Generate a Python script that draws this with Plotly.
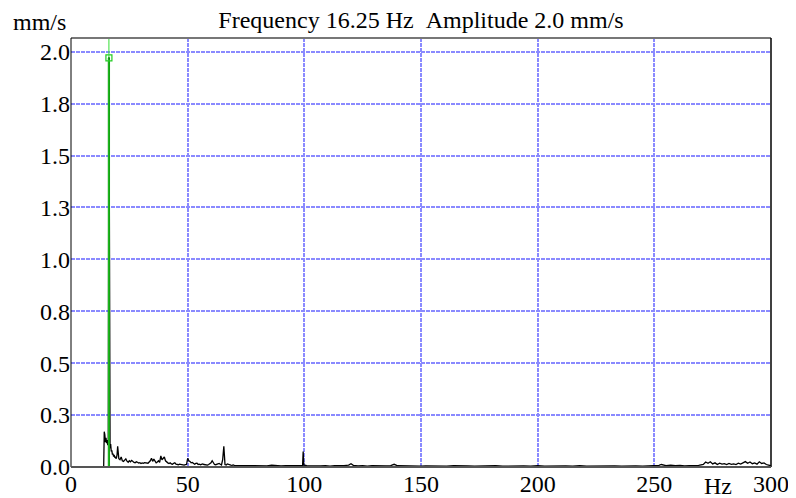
import plotly.graph_objects as go

# ---- data ----
peak_freq = 16.25
peak_amp = 1.97

freq_a = [0, 12.0, 13.75, 14.0, 14.25, 14.5, 14.75, 15.0, 15.25, 15.5, 15.75, 16.0, 16.25,
          16.5, 16.75, 17.0, 17.25, 17.5, 17.75, 18.0, 18.25, 18.5, 18.75, 19.0, 19.25,
          19.5, 19.75, 20.0]
amp_a = [0.0, 0.0, 0.0, 0.0, 0.17, 0.155, 0.12, 0.14, 0.115, 0.13, 0.105, 0.12, 1.97,
         0.10, 0.09, 0.11, 0.075, 0.08, 0.06, 0.065, 0.05, 0.058, 0.045, 0.05, 0.04,
         0.045, 0.06, 0.10]

freq_b = [20.5, 21.0, 21.5, 22.0, 22.5, 23.0, 23.5, 24.0, 24.5, 25.0, 25.5, 26.0, 26.5,
          27.0, 27.5, 28.0, 28.5, 29.0, 29.5, 30.0, 30.5, 31.0, 31.5, 32.0, 32.5, 33.0,
          33.5, 34.0, 34.5, 35.0, 35.5, 36.0, 36.5, 37.0, 37.5, 38.0, 38.5, 39.0, 39.5,
          40.0, 40.5, 41.0, 41.5, 42.0, 42.5, 43.0, 43.5, 44.0, 44.5, 45.0, 45.5, 46.0,
          46.5, 47.0, 47.5, 48.0, 48.5, 49.0, 49.5, 50.0, 50.5, 51.0, 51.5, 52.0, 52.5,
          53.0, 53.5, 54.0, 54.5, 55.0, 55.5, 56.0, 56.5, 57.0, 57.5, 58.0, 58.5, 59.0,
          59.5, 60.0, 60.5, 61.0, 61.5, 62.0, 62.5, 63.0, 63.5, 64.0, 64.5, 65.0, 65.5,
          66.0, 66.5, 67.0, 67.5, 68.0, 68.5, 69.0, 69.5, 70.0]
amp_b = [0.04, 0.035, 0.048, 0.03, 0.027, 0.035, 0.039, 0.028, 0.023, 0.03, 0.025, 0.032, 0.024,
         0.022, 0.02, 0.025, 0.023, 0.019, 0.021, 0.017, 0.02, 0.018, 0.021, 0.019, 0.017, 0.018,
         0.024, 0.03, 0.042, 0.027, 0.038, 0.025, 0.02, 0.024, 0.03, 0.022, 0.053, 0.035, 0.042,
         0.048, 0.03, 0.022, 0.02, 0.017, 0.02, 0.015, 0.013, 0.018, 0.02, 0.014, 0.012, 0.011,
         0.014, 0.013, 0.01, 0.012, 0.009, 0.011, 0.012, 0.042, 0.03, 0.027, 0.02, 0.022, 0.015,
         0.013, 0.017, 0.018, 0.012, 0.014, 0.011, 0.013, 0.015, 0.012, 0.01, 0.011, 0.009, 0.012,
         0.015, 0.02, 0.03, 0.018, 0.012, 0.011, 0.013, 0.012, 0.017, 0.013, 0.01, 0.035, 0.10,
         0.012, 0.01, 0.015, 0.012, 0.01, 0.009, 0.008, 0.01, 0.008]

freq_c = [72, 74, 76, 78, 80, 82, 84, 86, 88, 90, 92, 94, 96, 98, 99.25, 99.5, 99.75, 101,
          103, 105, 107, 109, 111, 113, 115, 117, 119, 120, 121, 123, 125, 127, 129, 131,
          133, 135, 137, 138.5, 140, 142, 144, 146, 148, 150, 152, 155, 158, 161, 164, 167,
          170, 173, 176, 179, 182, 185, 188, 191, 194, 197, 200, 203, 206, 209, 212, 215,
          218, 221, 224, 227, 230, 233, 236, 239, 242, 245, 248, 250, 252, 253, 255, 257,
          259, 261, 263, 265, 267, 269, 271, 272, 273, 274, 275, 276, 277, 278, 279, 280,
          281, 282, 283, 284, 285, 286, 287, 288, 289, 290, 291, 292, 293, 294, 295, 296,
          297, 298, 299, 300]
amp_c = [0.008, 0.006, 0.007, 0.005, 0.006, 0.008, 0.005, 0.009, 0.006, 0.005, 0.007, 0.006,
         0.005, 0.007, 0.006, 0.075, 0.01, 0.006, 0.005, 0.007, 0.005, 0.006, 0.004, 0.006,
         0.005, 0.007, 0.009, 0.016, 0.008, 0.005, 0.006, 0.004, 0.006, 0.005, 0.006, 0.005,
         0.007, 0.013, 0.006, 0.005, 0.006, 0.004, 0.005, 0.004, 0.005, 0.004, 0.005, 0.004,
         0.006, 0.004, 0.005, 0.004, 0.005, 0.004, 0.006, 0.004, 0.005, 0.004, 0.005, 0.004,
         0.006, 0.004, 0.005, 0.004, 0.005, 0.004, 0.006, 0.004, 0.005, 0.004, 0.006, 0.005,
         0.004, 0.006, 0.005, 0.004, 0.006, 0.005, 0.008, 0.012, 0.007, 0.009, 0.006, 0.008,
         0.005, 0.007, 0.006, 0.008, 0.012, 0.024, 0.018, 0.025, 0.015, 0.02, 0.012, 0.018,
         0.014, 0.016, 0.012, 0.017, 0.013, 0.015, 0.012, 0.018, 0.014, 0.02, 0.026, 0.018,
         0.024, 0.016, 0.02, 0.014, 0.025, 0.017, 0.02, 0.012, 0.008, 0.006]

y_tick_vals = [0.0, 0.25, 0.5, 0.75, 1.0, 1.25, 1.5, 1.75, 2.0]
y_tick_text = ["0.0", "0.3", "0.5", "0.8", "1.0", "1.3", "1.5", "1.8", "2.0"]
x_tick_vals = [0, 50, 100, 150, 200, 250, 300]
x_tick_text = ["0", "50", "100", "150", "200", "250", "300"]

title_text = "Frequency 16.25 Hz\u00a0\u00a0Amplitude 2.0 mm/s"
y_unit = "mm/s"
x_unit = "Hz"

freq = freq_a + freq_b + freq_c
amp = amp_a + amp_b + amp_c

FONT = "Liberation Serif, Times New Roman, serif"
FS = 24
GRID = "#8a8aff"
GDASH = "4px,1px"

# page body has an 8px margin: size the figure to fit the 796x498 window
W, H = 788, 490
L, T, PW, PH = 63, 30, 700, 429

fig = go.Figure()
fig.add_trace(go.Scatter(x=freq, y=amp, mode="lines",
                         line=dict(color="black", width=1.3), hoverinfo="skip"))
# highlighted peak bin
fig.add_trace(go.Scatter(x=[peak_freq, peak_freq], y=[0, peak_amp], mode="lines",
                         line=dict(color="#007a00", width=2.2), hoverinfo="skip"))
# cursor marker
fig.add_trace(go.Scatter(x=[peak_freq], y=[peak_amp], mode="markers",
                         marker=dict(symbol="square-open", size=6, color="#22cc22",
                                     line=dict(width=1.2, color="#22cc22"))))
fig.add_trace(go.Scatter(x=[peak_freq], y=[peak_amp], mode="markers",
                         marker=dict(symbol="circle", size=2, color="#003300")))

fig.update_layout(
    width=W, height=H,
    margin=dict(l=L, r=W - L - PW, t=T, b=H - T - PH, autoexpand=False),
    paper_bgcolor="white", plot_bgcolor="white",
    showlegend=False,
    font=dict(family=FONT, size=FS, color="black"),
    title=dict(text=title_text, x=(L + PW / 2) / W, xanchor="center",
               y=1 - 12 / H, yanchor="middle",
               font=dict(family=FONT, size=FS, color="black")),
)
fig.update_xaxes(range=[0, 300], tickvals=x_tick_vals, ticktext=x_tick_text,
                 showgrid=True, gridcolor=GRID, griddash=GDASH, gridwidth=1.6,
                 zeroline=False, showline=False, ticks="", automargin=False,
                 tickfont=dict(family=FONT, size=FS))
fig.update_yaxes(range=[0, 2.066], tickvals=y_tick_vals, ticktext=y_tick_text,
                 showgrid=True, gridcolor=GRID, griddash=GDASH, gridwidth=1.6,
                 zeroline=False, showline=False, ticks="", automargin=False,
                 tickfont=dict(family=FONT, size=FS))

# cursor line
fig.add_shape(type="line", xref="x", yref="paper", x0=peak_freq, x1=peak_freq, y0=0, y1=1,
              line=dict(color="#33dd33", width=1), layer="above")
# frame
fig.add_shape(type="line", xref="paper", yref="paper", x0=0, x1=1, y0=1, y1=1,
              line=dict(color="#777777", width=2))
fig.add_shape(type="line", xref="paper", yref="paper", x0=0, x1=0, y0=0, y1=1,
              line=dict(color="black", width=1))
fig.add_shape(type="line", xref="paper", yref="paper", x0=1, x1=1, y0=0, y1=1,
              line=dict(color="black", width=1.5))
fig.add_shape(type="line", xref="paper", yref="paper", x0=0, x1=1, y0=0, y1=0,
              line=dict(color="#555555", width=2))

fig.add_annotation(text=y_unit, xref="paper", yref="paper", x=(39 - 71) / PW,
                   y=(467 - 22) / PH, showarrow=False, xanchor="center", yanchor="middle",
                   font=dict(family=FONT, size=FS))
fig.add_annotation(text=x_unit, xref="x", yref="paper", x=277.3,
                   y=(467 - 486) / PH, showarrow=False, xanchor="center", yanchor="middle",
                   font=dict(family=FONT, size=FS))

fig.write_html("out.html")
